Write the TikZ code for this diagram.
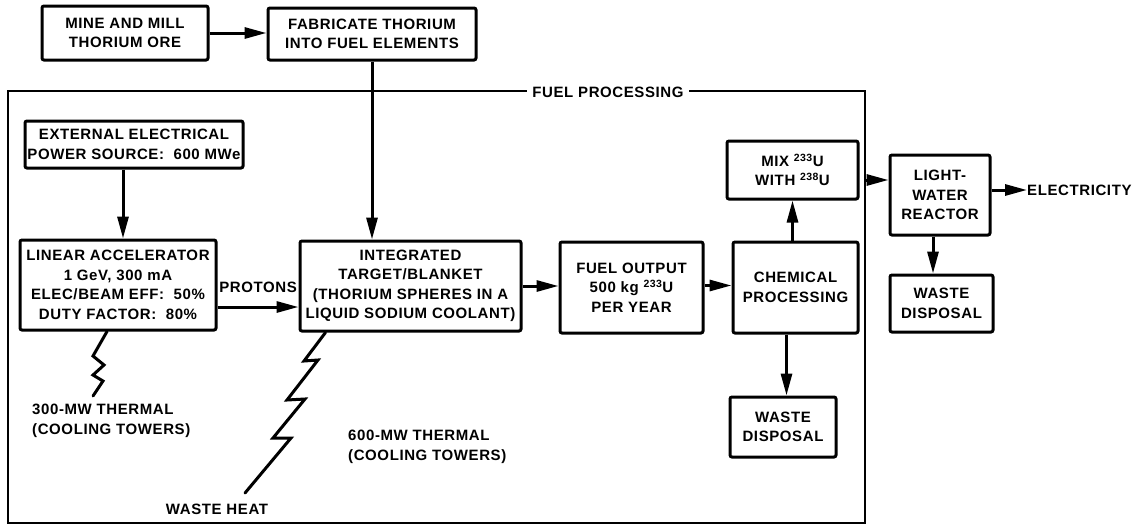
\documentclass[tikz,border=0pt]{standalone}
\usepackage{fontspec}
\setmainfont{Liberation Sans}[LetterSpace=4]
\usetikzlibrary{arrows.meta}
\begin{document}
\begin{tikzpicture}[x=1pt,y=-1pt,
  every node/.style={font=\fontsize{15}{19.5}\selectfont\bfseries},
  box/.style={draw, line width=3pt, rounded corners=2pt, align=center, inner sep=0pt},
  arr/.style={line width=3pt, -{Triangle[length=22pt,width=11pt]}},
  bolt/.style={line width=3pt, line join=miter, line cap=round},
  lbl/.style={align=left, inner sep=0pt}]
\useasboundingbox (0,0) rectangle (1140,530);
% outer fuel processing frame
\draw[line width=2.2pt] (8,91) rectangle (865,523);
\node[fill=white, inner sep=5pt] (fp) at (608,92) {FUEL PROCESSING};
% boxes
\node[box, minimum width=166pt, minimum height=54pt] (mine) at (125,33) {MINE AND MILL\\THORIUM ORE};
\node[box, minimum width=208pt, minimum height=52pt] (fab) at (372,34) {FABRICATE THORIUM\\INTO FUEL ELEMENTS};
\node[box, minimum width=218pt, minimum height=47pt] (ext) at (134,144.5) {EXTERNAL ELECTRICAL\\POWER SOURCE:\ \ 600 MWe};
\node[box, minimum width=196pt, minimum height=90pt] (lin) at (118,285) {LINEAR ACCELERATOR\\1 GeV, 300 mA\\ELEC/BEAM EFF:\ \ 50\%\\DUTY FACTOR:\ \ 80\%};
\node[box, minimum width=221pt, minimum height=90pt] (integ) at (410.5,286) {INTEGRATED\\TARGET/BLANKET\\(THORIUM SPHERES IN A\\LIQUID SODIUM COOLANT)};
\node[box, minimum width=143pt, minimum height=91pt] (fuel) at (631.5,287.5) {FUEL OUTPUT\\500 kg \textsuperscript{233}U\\PER YEAR};
\node[box, minimum width=125pt, minimum height=91pt] (chem) at (795.5,287.5) {CHEMICAL\\PROCESSING};
\node[box, minimum width=131pt, minimum height=58pt] (mix) at (792.5,170) {MIX \textsuperscript{233}U\\WITH \textsuperscript{238}U};
\node[box, minimum width=100pt, minimum height=80pt] (lwr) at (940,195) {LIGHT-\\WATER\\REACTOR};
\node[box, minimum width=103pt, minimum height=57pt] (wd2) at (941.5,303.5) {WASTE\\DISPOSAL};
\node[box, minimum width=106pt, minimum height=60pt] (wd1) at (783,427) {WASTE\\DISPOSAL};
% labels
\node[lbl, anchor=east] (prot) at (297,287) {PROTONS};
\node[lbl, anchor=west] (elec) at (1027,190) {ELECTRICITY};
\node[lbl, anchor=west] (t300) at (32,421) {300-MW THERMAL\\(COOLING TOWERS)};
\node[lbl, anchor=west] (t600) at (348,447) {600-MW THERMAL\\(COOLING TOWERS)};
\node[lbl] (wh) at (217,509) {WASTE HEAT};
\coordinate (exit) at (866,180);
% connectors
\draw[arr] (mine.east) -- (mine.east -| fab.west);
\draw[arr] (fab.south) -- (fab.south |- integ.north);
\draw[arr] ([xshift=-11pt]ext.south) -- ([xshift=-11pt]ext.south |- lin.north);
\draw[arr] ([yshift=-22pt]lin.east) -- ([yshift=-22pt]lin.east -| integ.west);
\draw[arr] (integ.east) -- (integ.east -| fuel.west);
\draw[arr] ([yshift=2pt]fuel.east) -- ([yshift=2pt]fuel.east -| chem.west);
\draw[arr] (mix.south |- chem.north) -- (mix.south);
\draw[arr] ([xshift=-9pt]chem.south) -- ([xshift=-9pt]chem.south |- wd1.north);
\draw[arr] (exit) -- (exit -| lwr.west);
\draw[arr] (elec.west -| lwr.east) -- (elec.west);
\draw[arr] ([xshift=-7pt]lwr.south) -- ([xshift=-7pt]lwr.south |- wd2.north);
% heat bolts
\draw[bolt] ([xshift=-11pt]lin.south) -- (93,356) -- (104,365) -- (93,375) -- (103,381) -- (93,396);
\draw[bolt] ([xshift=27pt]integ.south west) -- (304,361) -- (318,360) -- (287,400) -- (305,399) -- (273,438) -- (291,438) -- (245,493);
\end{tikzpicture}
\end{document}
